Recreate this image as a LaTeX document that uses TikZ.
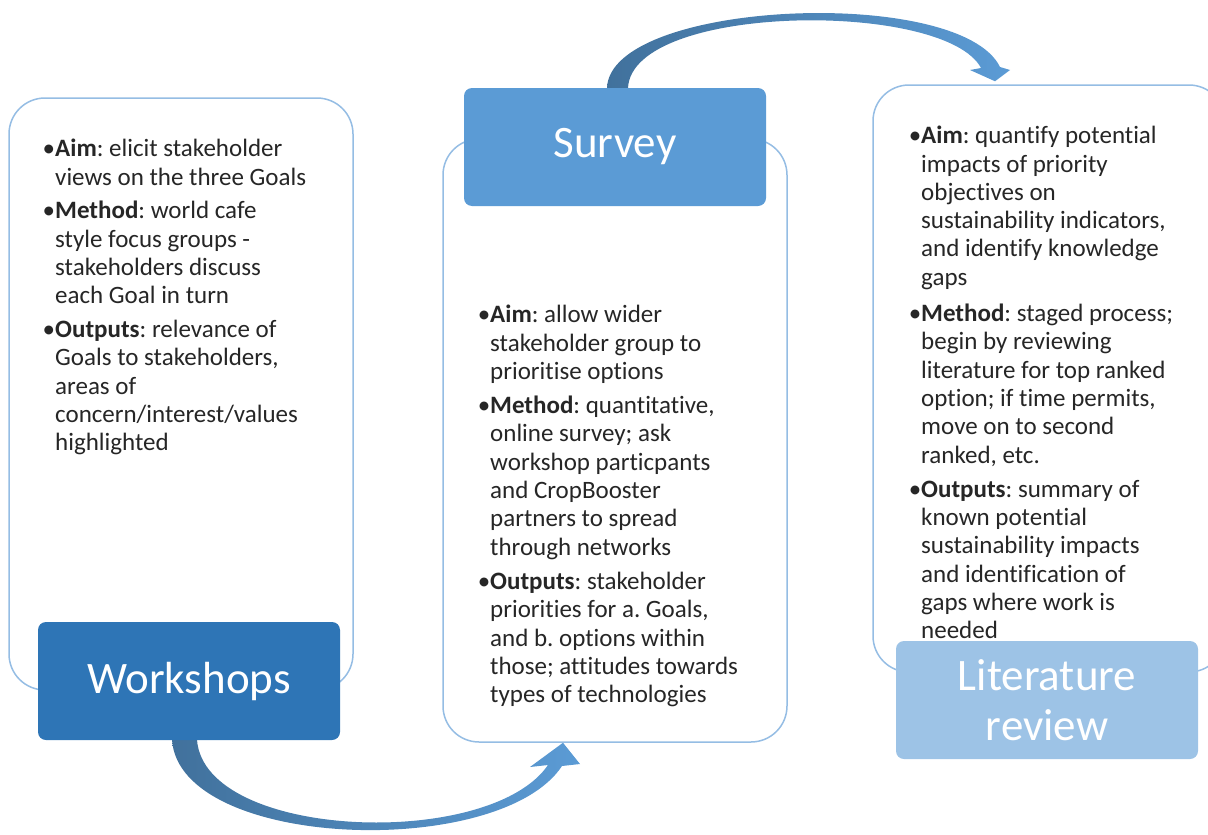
\documentclass[tikz,border=0pt]{standalone}
\usepackage{fontspec}
\setmainfont{Carlito}[Ligatures=NoCommon]
\usetikzlibrary{calc}
\definecolor{workshopBlue}{HTML}{2E75B6}
\definecolor{surveyBlue}{HTML}{5B9BD5}
\definecolor{reviewBlue}{HTML}{9DC3E6}
\definecolor{panelEdge}{HTML}{95BDE4}
\definecolor{arrowDark}{HTML}{41719C}
\definecolor{bodyText}{HTML}{262626}
\colorlet{arrowLight}{surveyBlue}
\frenchspacing

% bullet hung in the margin, then the bold keyword
\newcommand{\aspect}[1]{\llap{\textbullet}\textbf{#1}}

\begin{document}
\begin{tikzpicture}[
  x=1pt,
  y=-1pt,
  textPanel/.style={
    draw=panelEdge,
    line width=1.5pt,
    fill=white,
    rounded corners=36pt,
    inner sep=0pt,
  },
  stageLabel/.style={
    rounded corners=8pt,
    inner sep=0pt,
    text=white,
    align=center,
    font=\fontsize{45}{50}\selectfont,
    minimum width=302pt,
    minimum height=118pt,
  },
  panelText/.style={
    anchor=north west,
    inner sep=0pt,
    align=left,
    text=bodyText,
    font=\fontsize{25}{28.3}\selectfont,
  },
  flowArrow/.style={
    left color=arrowDark,
    right color=arrowLight,
  }
]
\useasboundingbox (0,0) rectangle (1208,835);
\clip (0,0) rectangle (1208,835);

% the three text panels
\node[textPanel,minimum width=344pt,minimum height=592pt] (workshopPanel) at (181,394) {};
\node[textPanel,minimum width=344pt,minimum height=603pt] (surveyPanel) at (615,440.5) {};
\node[textPanel,minimum width=352pt,minimum height=587pt] (reviewPanel) at (1049,378.5) {};

% curved arrows between the stages
\coordinate (surveyIn) at ([xshift=-52pt]surveyPanel.south);
\coordinate (reviewIn) at ([xshift=-54pt]reviewPanel.north);
\shade[flowArrow]
  (172,740) .. controls (180,850) and (500,860) .. (562,766)
  -- (580,764) -- (surveyIn) -- (530,767) -- (548,765)
  .. controls (490,850) and (205,840) .. (197,740) -- cycle;
\shade[flowArrow]
  (607,88) .. controls (610,0) and (960,-15) .. (1000,67)
  -- (1010,70) -- ([yshift=3pt]reviewIn) -- (970,70) -- (981,68)
  .. controls (945,0) and (632,3) .. (628,88) -- cycle;

% stage headers
\node[stageLabel,fill=workshopBlue] (workshops) at (189,681) {Workshops};
\node[stageLabel,fill=surveyBlue] (survey) at (615,147) {Survey};
\node[stageLabel,fill=reviewBlue] (review) at (1047,700) {Literature\\review};

% panel contents
\node[panelText] (workshopNotes) at (55,139) {%
  \aspect{Aim}: elicit stakeholder\\
  views on the three Goals\\[5.5pt]
  \aspect{Method}: world cafe\\
  style focus groups -\\
  stakeholders discuss\\
  each Goal in turn\\[5.5pt]
  \aspect{Outputs}: relevance of\\
  Goals to stakeholders,\\
  areas of\\
  concern/interest/values\\
  highlighted};
\node[panelText] (surveyNotes) at (490,305) {%
  \aspect{Aim}: allow wider\\
  stakeholder group to\\
  prioritise options\\[6pt]
  \aspect{Method}: quantitative,\\
  online survey; ask\\
  workshop particpants\\
  and CropBooster\\
  partners to spread\\
  through networks\\[6pt]
  \aspect{Outputs}: stakeholder\\
  priorities for a. Goals,\\
  and b. options within\\
  those; attitudes towards\\
  types of technologies};
\node[panelText] (reviewNotes) at (921,126) {%
  \aspect{Aim}: quantify potential\\
  impacts of priority\\
  objectives on\\
  sustainability indicators,\\
  and identify knowledge\\
  gaps\\[8pt]
  \aspect{Method}: staged process;\\
  begin by reviewing\\
  literature for top ranked\\
  option; if time permits,\\
  move on to second\\
  ranked, etc.\\[6pt]
  \aspect{Outputs}: summary of\\
  known potential\\
  sustainability impacts\\
  and identification of\\
  gaps where work is\\
  needed};
\end{tikzpicture}
\end{document}
